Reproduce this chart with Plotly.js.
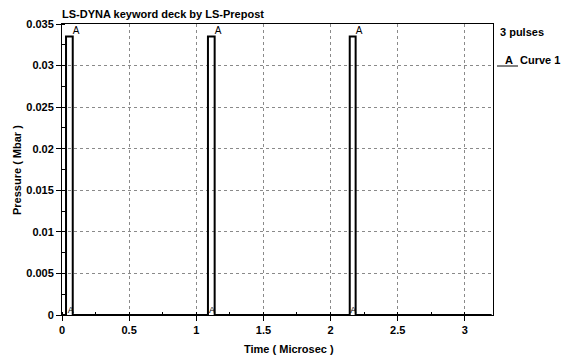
<!DOCTYPE html>
<html><head><meta charset="utf-8">
<script src="https://cdn.plot.ly/plotly-3.0.1.min.js"></script>
<style>html,body{margin:0;padding:0;background:#fff}#chart{width:572px;height:357px}</style>
</head><body><div id="chart"></div>
<script>
// Curve 1: three rectangular pressure pulses
const time = [0, 0.03, 0.03, 0.08, 0.08, 1.087, 1.087, 1.137, 1.137, 2.143, 2.143, 2.187, 2.187, 3.2];
const pressure = [0, 0, 0.0335, 0.0335, 0, 0, 0.0335, 0.0335, 0, 0, 0.0335, 0.0335, 0, 0];
// "A" point-marker labels placed by LS-Prepost along the curve
const labelTopT = [0.08, 1.137, 2.187];
const labelTopP = [0.0335, 0.0335, 0.0335];
const labelBotT = [0.066, 1.118, 2.17];
const labelBotP = [0, 0, 0];
const xTicks = [0, 0.5, 1, 1.5, 2, 2.5, 3];
const yTicks = [0, 0.005, 0.01, 0.015, 0.02, 0.025, 0.03, 0.035];
const yTickText = ['0', '0.005', '0.01', '0.015', '0.02', '0.025', '0.03', '0.035'];

const F = 'Liberation Sans, Arial, sans-serif';
const font = {family: F, size: 11, color: '#000', weight: 'bold'};

const traces = [
  {x: time, y: pressure, mode: 'lines', line: {color: '#000', width: 2}, hoverinfo: 'none', cliponaxis: false},
  {x: labelTopT, y: labelTopP, mode: 'text', text: labelTopT.map(() => 'A'), textposition: 'top right',
   textfont: {family: F, size: 10, color: '#000'}, cliponaxis: false},
  {x: labelBotT, y: labelBotP, mode: 'text', text: labelBotT.map(() => 'A'), textposition: 'top center',
   textfont: {family: F, size: 9, color: '#000'}, cliponaxis: false}
];

const axisCommon = {
  showline: true, linecolor: '#000', linewidth: 1, mirror: true,
  ticks: 'outside', ticklen: 5, tickcolor: '#000', tickwidth: 1,
  showgrid: true, gridcolor: '#8a8a8a', griddash: 'dot', gridwidth: 1,
  zeroline: false, tickfont: font
};

const layout = {
  width: 572, height: 357,
  margin: {l: 62, r: 79, t: 24, b: 42},
  paper_bgcolor: '#fff', plot_bgcolor: '#fff',
  showlegend: false,
  title: {text: 'LS-DYNA keyword deck by LS-Prepost', font: font,
          xref: 'paper', x: 0, xanchor: 'left', yref: 'container', y: 1 - 14/357, yanchor: 'middle'},
  xaxis: Object.assign({}, axisCommon, {
    range: [0, 3.21], tickvals: xTicks, ticktext: xTicks.map(String),
    minor: {dtick: 0.25, tick0: 0, ticks: 'inside', ticklen: 3, tickcolor: '#000', showgrid: false}
  }),
  yaxis: Object.assign({}, axisCommon, {
    range: [0, 0.035], tickvals: yTicks, ticktext: yTickText,
    minor: {dtick: 0.0025, tick0: 0, ticks: 'inside', ticklen: 3, tickcolor: '#000', showgrid: false}
  }),
  annotations: [
    {text: 'Time ( Microsec )', font: font, xref: 'paper', x: (289 - 62) / 431, yref: 'paper', y: (315 - 349) / 291,
     xanchor: 'center', yanchor: 'middle', showarrow: false},
    {text: 'Pressure ( Mbar )', font: font, textangle: -90, xref: 'paper', x: (17 - 62) / 431, yref: 'paper',
     y: (315 - 170) / 291, xanchor: 'center', yanchor: 'middle', showarrow: false},
    {text: '3 pulses', font: font, xref: 'paper', x: (498 - 62) / 431, yref: 'paper', y: (315 - 32) / 291,
     xanchor: 'left', yanchor: 'middle', showarrow: false},
    {text: 'A', font: font, xref: 'paper', x: (509 - 62) / 431, yref: 'paper', y: (315 - 60) / 291,
     xanchor: 'center', yanchor: 'middle', showarrow: false},
    {text: 'Curve 1', font: font, xref: 'paper', x: (518 - 62) / 431, yref: 'paper', y: (315 - 60) / 291,
     xanchor: 'left', yanchor: 'middle', showarrow: false}
  ],
  shapes: [
    {type: 'line', xref: 'paper', yref: 'paper', x0: (497 - 62) / 431, x1: (518 - 62) / 431,
     y0: (315 - 66) / 291, y1: (315 - 66) / 291, line: {color: '#000', width: 1}}
  ]
};

Plotly.newPlot('chart', traces, layout, {displayModeBar: false, staticPlot: true});
</script>
</body></html>
